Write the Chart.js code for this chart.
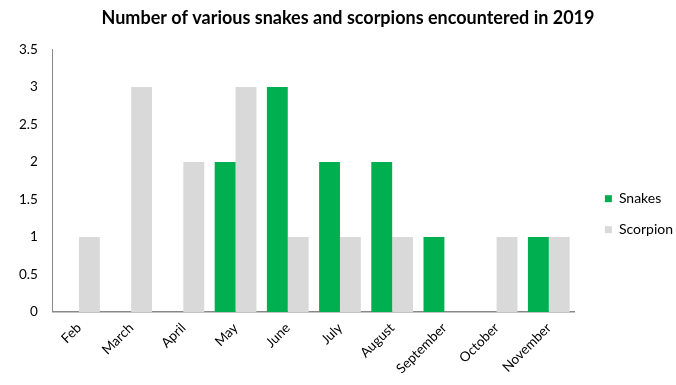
<!DOCTYPE html>
<html>
<head>
<meta charset="utf-8">
<script src="https://cdn.jsdelivr.net/npm/chart.js@4"></script>
<style>
  html, body { margin: 0; padding: 0; background: #fff; }
  #wrap { width: 676px; height: 385px; }
</style>
</head>
<body>
<div id="wrap"><canvas id="encounterChart" width="676" height="385"></canvas></div>
<script>
// Monthly encounters
const months = ['Feb', 'March', 'April', 'May', 'June', 'July', 'August', 'September', 'October', 'November'];
const snakes = [0, 0, 0, 2, 3, 2, 2, 1, 0, 1];
const scorpions = [1, 3, 2, 3, 1, 1, 1, 0, 1, 1];
const yTicks = [0, 0.5, 1, 1.5, 2, 2.5, 3, 3.5];

const fontFamily = "Lato, 'Open Sans', sans-serif";

// nudge the legend entries away from the plot and the title a bit right
const boxShift = {
    id: 'boxShift',
    afterLayout(chart) {
        const lg = chart.legend;
        if (lg) { lg.left += 13; lg.right += 13; }
        const tb = chart.titleBlock;
        if (tb) { tb.left += 11; tb.right += 11; }
    }
};

const ctx = document.getElementById('encounterChart').getContext('2d');
new Chart(ctx, {
    type: 'bar',
    data: {
        labels: months,
        datasets: [
            {
                label: 'Snakes',
                data: snakes,
                backgroundColor: '#00b050',
                barPercentage: 1.0,
                categoryPercentage: 0.8
            },
            {
                label: 'Scorpion',
                data: scorpions,
                backgroundColor: '#d9d9d9',
                barPercentage: 1.0,
                categoryPercentage: 0.8
            }
        ]
    },
    options: {
        responsive: false,
        animation: false,
        layout: { padding: { top: 7, left: 4, right: 6, bottom: 0 } },
        plugins: {
            title: {
                display: true,
                text: 'Number of various snakes and scorpions encountered in 2019',
                color: '#000',
                font: { family: fontFamily, size: 18, weight: 'bold' },
                padding: { top: 0, bottom: 21 }
            },
            legend: {
                position: 'right',
                // empty title just pushes the entries down a little
                title: { display: true, text: '', padding: 11, font: { size: 12 } },
                labels: {
                    color: '#000',
                    font: { family: fontFamily, size: 14 },
                    boxWidth: 7,
                    boxHeight: 7,
                    padding: 17
                }
            },
            tooltip: { enabled: false }
        },
        scales: {
            x: {
                grid: { display: false, drawTicks: false },
                border: { color: '#888', width: 1.5 },
                ticks: {
                    color: '#000',
                    font: { family: fontFamily, size: 13.5 },
                    maxRotation: 45,
                    minRotation: 45,
                    padding: 8
                }
            },
            y: {
                min: 0,
                max: 3.5,
                afterBuildTicks: axis => { axis.ticks = yTicks.map(v => ({ value: v })); },
                grid: { display: false, drawTicks: false },
                border: { color: '#888', width: 1 },
                ticks: {
                    color: '#000',
                    font: { family: fontFamily, size: 13.5 },
                    padding: 15,
                    callback: value => String(value)
                }
            }
        }
    },
    plugins: [boxShift]
});
</script>
</body>
</html>
